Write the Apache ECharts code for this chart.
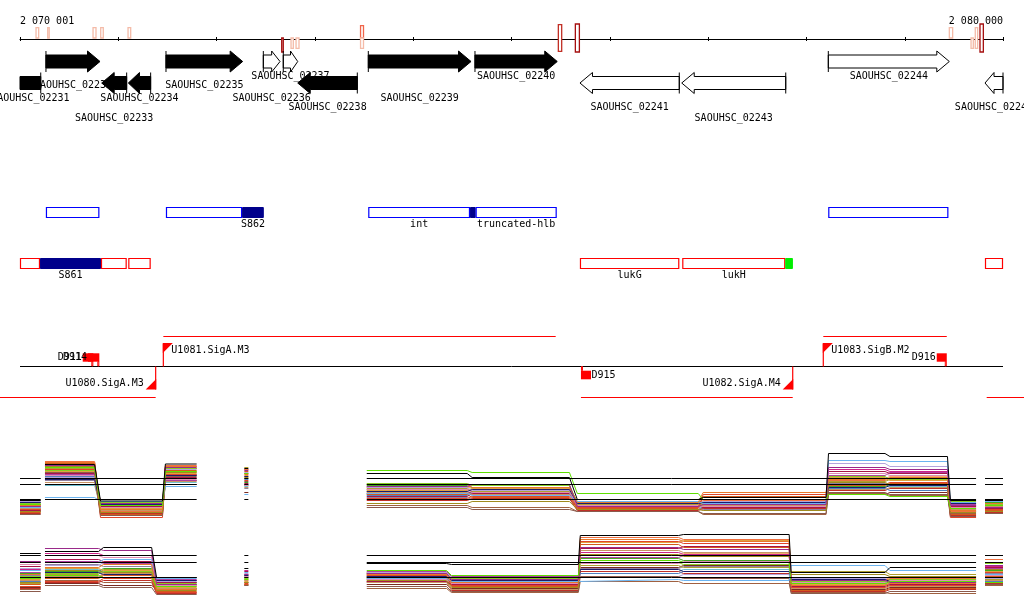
<!DOCTYPE html>
<html><head><meta charset="utf-8">
<script src="https://cdn.jsdelivr.net/npm/echarts/dist/echarts.min.js"></script>
<style>html,body{margin:0;padding:0;background:#fff}#c{width:1024px;height:611px}</style>
</head><body><div id="c"></div><script>
// ---------------- data ----------------
const X_MIN = 2070001, X_MAX = 2080000;
const rulerLabels = ['2 070 001', '2 080 000'];

// small scored features on the ruler (strand: 1 above, -1 below, 0 both)
const rfStart  = [2070164,2070283,2070744,2070822,2071100,2072663,2072758,2072809,2073465,2073465,2075477,2075650,2079454,2079675,2079718,2079766];
const rfEnd    = [2070191,2070296,2070774,2070848,2071127,2072679,2072781,2072839,2073495,2073495,2075511,2075691,2079488,2079698,2079742,2079800];
const rfStrand = [1,1,1,1,1,-1,-1,-1,1,-1,0,0,1,-1,0,0];
const rfScore  = [0.1,0.1,0.1,0.1,0.1,1,0.1,0.1,0.6,0.1,0.85,1,0.1,0.1,0.1,1];

// genes
const geneName   = ['SAOUHSC_02231','SAOUHSC_02232','SAOUHSC_02233','SAOUHSC_02234','SAOUHSC_02235','SAOUHSC_02236','SAOUHSC_02237','SAOUHSC_02238','SAOUHSC_02239','SAOUHSC_02240','SAOUHSC_02241','SAOUHSC_02243','SAOUHSC_02244','SAOUHSC_02245'];
const geneStart  = [2069650,2070265,2070832,2071103,2071486,2072476,2072679,2072826,2073544,2074629,2075697,2076732,2078223,2079817];
const geneEnd    = [2070212,2070815,2071086,2071330,2072266,2072646,2072826,2073432,2074589,2075466,2076707,2077790,2079454,2080000];
const geneStrand = [-1,1,-1,-1,1,1,1,-1,1,1,-1,-1,1,-1];
const geneHollow = [0,0,0,0,0,1,1,0,0,0,1,1,1,1];

// annotation track (blue)
const t2Start = [2070265,2071486,2072260,2073544,2074578,2074636,2078223];
const t2End   = [2070808,2072260,2072481,2074578,2074636,2075460,2079444];
const t2Kind  = ['open','open','navy','open','navy','open','open'];
const t2Label = ['','','S862','int','','truncated-hlb',''];

// annotation track (red)
const t3Start = [2070001,2070204,2070825,2071103,2075697,2076738,2077785,2079817];
const t3End   = [2070204,2070825,2071086,2071330,2076707,2077785,2077863,2080000];
const t3Kind  = ['open','navy','open','open','open','open','green','open'];
const t3Label = ['','S861','','','lukG','lukH','',''];

// transcription units
const tuName   = ['U1080.SigA.M3','U1081.SigA.M3','U1082.SigA.M4','U1083.SigB.M2',''];
const tuStart  = [2069700,2071459,2075707,2078172,2079834];
const tuEnd    = [2071381,2075450,2077861,2079428,2081500];
const tuStrand = [-1,1,-1,1,-1];

// terminators
const termName   = ['D911','D914','D915','D916'];
const termStart  = [2070639,2070693,2075707,2079326];
const termEnd    = [2070747,2070808,2075809,2079428];
const termStrand = [1,1,-1,1];

// expression panels: stretches with probe data
const dataSegments = [[2070001,2070212],[2070255,2071798],[2072283,2072324],[2073528,2079726],[2079817,2080000]];
const p1Refs = [8.4, 7.2, 4.2];
const p2Refs = [8.4, 7.0, 4.0];

const p1Regions = [[2070001,2070212],[2070255,2070760],[2070820,2071450],[2071480,2071798],[2072283,2072324],[2073528,2074550],[2074600,2075590],[2075670,2076900],[2076950,2078200],[2078225,2078800],[2078850,2079435],[2079465,2079726],[2079817,2080000]];
const p1Seg = [0,1,1,1,2,3,3,3,3,3,3,3,4];
const p1Levels = [
 [4.0,11.2,3.9,11.3,10.4,9.4,8.6,4.2,4.6,13.4,12.8,4.0,4.0],
 [3.2,10.6,3.0,9.8,9.4,10.0,9.6,5.4,4.2,5.2,4.8,2.4,3.0],
 [2.8,11.0,3.4,10.6,10.0,6.8,7.2,2.8,3.2,10.6,10.2,3.0,2.6],
 [3.0,11.6,2.2,10.8,9.2,7.2,6.6,3.6,5.6,8.2,8.6,2.0,3.4],
 [1.8,10.8,1.6,9.6,8.6,3.4,3.8,2.2,2.0,7.6,7.2,1.6,1.8],
 [2.6,4.6,3.8,6.8,5.2,5.4,5.0,3.8,3.4,12.0,11.8,3.6,3.8],
 [3.6,8.2,3.2,9.0,8.8,5.8,6.2,3.4,3.6,6.6,7.0,3.4,3.8],
 [1.2,9.6,1.0,8.8,7.8,2.6,2.2,1.8,1.4,5.6,5.2,0.8,1.4],
 [2.2,10.2,0.6,9.2,8.0,4.4,4.8,2.6,5.2,7.2,7.6,0.6,2.2],
 [3.0,9.0,2.6,8.2,7.0,6.2,5.6,3.0,2.8,9.4,9.0,2.6,3.0],
 [3.8,8.6,3.0,10.2,9.6,6.6,6.0,3.4,3.8,11.4,10.8,3.0,3.4],
 [2.4,7.6,2.0,7.8,6.6,5.6,5.2,2.6,3.0,6.2,6.6,2.2,2.8],
 [2.0,9.4,2.8,8.6,7.4,4.8,5.4,3.0,2.6,9.8,9.4,2.8,2.4],
 [1.6,11.4,1.2,10.0,9.8,5.2,4.6,2.4,4.8,7.0,7.4,1.2,2.0],
 [3.4,10.0,3.6,10.4,8.4,7.4,7.0,3.6,3.2,8.8,8.2,3.8,3.2],
 [2.8,9.8,2.4,9.4,9.0,6.0,6.4,2.8,3.4,8.6,8.0,2.4,2.6],
 [2.0,10.4,2.6,9.8,10.6,6.4,5.8,3.2,2.8,7.8,8.2,2.0,2.2],
 [3.2,9.2,3.8,8.0,7.2,5.8,5.2,3.8,3.4,9.0,9.6,3.2,3.0],
 [2.6,8.8,3.2,9.2,8.2,5.0,5.6,3.0,3.2,6.4,6.0,2.8,3.2],
 [1.4,10.8,1.4,10.4,9.4,4.0,4.4,2.0,2.4,6.0,6.4,1.0,1.6],
 [3.0,8.0,2.2,8.4,6.4,4.6,4.2,2.6,2.2,7.4,7.0,2.2,2.4],
 [2.4,11.8,1.8,11.0,10.2,6.6,7.0,3.4,4.0,8.0,8.4,1.8,2.8],
 [3.6,9.6,3.4,9.0,7.6,7.0,6.6,3.8,3.6,6.8,7.2,3.4,3.6],
 [1.8,8.4,2.0,7.2,5.6,5.4,5.8,2.2,2.6,5.2,5.6,1.8,2.0],
 [2.8,10.4,3.0,10.8,10.2,6.2,5.8,3.4,3.0,10.2,9.8,3.0,3.2],
 [2.2,9.0,1.6,8.0,7.0,3.0,2.6,1.8,1.2,5.4,5.0,1.4,1.8],
 [3.2,11.0,3.2,9.6,8.8,6.8,6.4,3.2,3.6,8.4,8.8,2.6,3.4],
 [3.0,7.0,2.8,7.6,6.8,5.2,5.6,2.8,2.4,7.2,6.8,2.4,2.8]
];

const p2Regions = [[2070001,2070212],[2070255,2070800],[2070850,2071340],[2071390,2071798],[2072283,2072324],[2073528,2074340],[2074390,2075680],[2075700,2076700],[2076750,2077825],[2077845,2078800],[2078850,2079726],[2079817,2080000]];
const p2Seg = [0,1,1,1,2,3,3,3,3,3,3,4];
const p2Levels = [
 [8.8,9.2,10.0,4.0,5.8,6.8,6.6,12.4,12.6,5.0,6.0,8.4],
 [3.8,4.4,4.0,2.2,3.6,5.4,4.4,7.4,7.0,2.8,3.2,3.0],
 [7.2,9.8,9.4,2.6,4.6,4.8,3.6,10.0,9.6,3.4,3.0,6.4],
 [4.6,6.0,6.6,1.6,4.0,4.6,3.0,11.6,11.2,2.4,2.8,7.0],
 [3.0,5.4,5.0,1.4,3.0,3.4,2.0,8.6,8.2,4.6,4.2,5.6],
 [5.4,7.0,7.6,3.8,5.0,3.8,3.2,3.6,3.4,6.4,5.4,4.6],
 [4.0,5.0,4.6,3.4,4.4,4.2,3.4,5.6,5.2,3.6,3.2,4.0],
 [1.2,2.4,2.0,0.6,2.4,2.2,1.2,4.2,3.8,0.8,1.2,2.6],
 [2.2,3.2,3.8,1.0,2.8,4.4,2.4,11.2,10.8,2.0,2.4,5.0],
 [6.6,8.4,8.0,2.4,4.2,3.6,2.8,6.8,7.2,3.0,3.4,4.4],
 [5.8,6.4,7.0,3.2,4.8,5.0,4.0,4.2,4.6,3.8,4.2,3.8],
 [3.4,4.2,4.8,1.8,3.4,3.0,1.6,9.4,9.0,1.8,2.2,3.4],
 [6.2,7.6,7.2,3.0,5.2,3.2,2.6,9.8,10.2,2.2,2.6,6.0],
 [2.6,3.8,4.4,1.2,2.6,4.0,2.2,10.6,10.0,1.4,1.8,4.2],
 [4.2,4.8,5.2,2.8,3.8,4.8,3.8,7.0,6.6,3.2,3.6,6.8],
 [3.6,5.8,5.4,2.0,3.2,4.4,2.8,11.0,11.4,2.6,3.0,5.2],
 [2.8,4.6,5.6,1.6,3.0,3.8,2.4,6.4,6.0,5.2,4.6,3.6],
 [5.0,7.2,6.8,3.6,4.6,5.2,4.2,8.0,8.4,3.6,3.2,5.8],
 [3.2,5.4,5.0,2.6,4.0,3.6,3.0,4.8,5.2,3.0,2.6,3.2],
 [1.8,3.0,3.4,0.8,2.6,3.2,1.4,5.2,4.8,1.2,1.6,2.8],
 [4.4,6.6,6.2,3.0,4.2,3.0,2.6,5.8,6.2,2.4,2.8,4.8],
 [3.0,4.0,4.6,2.4,3.6,5.0,3.6,12.0,11.6,3.4,3.8,7.6],
 [4.8,5.2,5.8,3.0,4.4,4.2,3.0,7.8,7.4,2.6,3.0,5.4],
 [2.0,2.8,2.4,1.8,3.0,2.6,1.8,6.0,6.4,1.6,2.0,3.8],
 [5.6,8.8,8.4,3.4,5.4,4.6,3.8,9.0,8.6,3.2,3.6,6.2],
 [1.6,3.4,3.0,1.0,2.4,1.8,1.0,3.2,2.8,1.0,0.8,2.4],
 [3.8,5.0,5.4,2.2,3.4,4.8,3.4,8.4,8.8,4.0,3.6,4.6],
 [4.2,5.6,5.2,2.6,3.8,4.0,3.2,5.2,5.6,2.8,2.4,4.2]
];

// ---------------- styles / layout ----------------
const lineColors = ['#000000','#5fe000','#9a2a8a','#e8782a','#a08c1e','#6cb4f0','#1c1c6c','#8b5a4c','#e0452a','#e08cb4','#b4a4dc','#c89464','#a81448','#d45a1c','#88cc22','#e0a040','#b0a030','#b040a0','#5080c0','#c03028','#9080a0','#f07040','#40a820','#7a2a20','#cc2288','#a06040','#f0b070','#70c0d0'];
const FF = '"DejaVu Sans Mono", monospace';
const FS = 10;
const RULER_Y = 38;
const Y_FWD = 61.5, Y_REV = 83, BODY_H = 6.5, HEAD_H = 10.5, HEAD_LEN = 12.5;
const geneLabelY = [98,85,118,98,85,98,76,107,98,76,107,118,76,107];
const T2_Y = 212.5, T2_LABEL_Y = 224, T3_Y = 263.5, T3_LABEL_Y = 275, BOX_H = 10;
const TU_BASE = 366.5, TU_FWD_LINE = 336.5, TU_REV_LINE = 397.5;
const RED = '#ff0000';

function txt(x, y, text, align) {
  return {type:'text', x:x, y:y, style:{text:text, align:align, verticalAlign:'middle', fill:'#000', fontFamily:FF, fontSize:FS}};
}
function mix(a, b, t) {
  const pa = [1,3,5].map(i=>parseInt(a.substr(i,2),16)), pb = [1,3,5].map(i=>parseInt(b.substr(i,2),16));
  return 'rgb(' + pa.map((v,k)=>Math.round(v+(pb[k]-v)*t)).join(',') + ')';
}
function scoreColor(s) {
  if (s <= 0.6) return mix('#f4bba8', '#f0654a', Math.max(0,(s-0.1)/0.5));
  return mix('#f0654a', '#a50f0f', (s-0.6)/0.4);
}
function px(api, bp) { return api.coord([bp, 0])[0]; }

// ---------------- renderers ----------------
function renderRulerFeat(params, api) {
  const i = params.dataIndex;
  let x0 = px(api, rfStart[i]), x1 = px(api, rfEnd[i]);
  if (x1 - x0 < 1.5) x1 = x0 + 1.5;
  const h = 10 + 4 * rfScore[i];
  const y0 = rfStrand[i] >= 0 ? RULER_Y - h : RULER_Y;
  const y1 = rfStrand[i] <= 0 ? RULER_Y + h : RULER_Y;
  return {type:'rect', shape:{x:x0, y:y0, width:x1-x0, height:y1-y0}, style:{fill:'#fff', stroke:scoreColor(rfScore[i]), lineWidth:1.3}};
}

function renderGene(params, api) {
  const i = params.dataIndex;
  const L = px(api, X_MIN), R = px(api, X_MAX);
  const x0 = px(api, geneStart[i]), x1 = px(api, geneEnd[i]);
  const cx0 = Math.max(x0, L), cx1 = Math.min(x1, R);
  const s = geneStrand[i];
  const yc = s > 0 ? Y_FWD : Y_REV;
  const head = Math.min(HEAD_LEN, (x1 - x0) * 0.5);
  let pts;
  if (s > 0) {
    const xh = x1 - head;
    pts = [[cx0,yc-BODY_H],[xh,yc-BODY_H],[xh,yc-HEAD_H],[x1,yc],[xh,yc+HEAD_H],[xh,yc+BODY_H],[cx0,yc+BODY_H]];
  } else if (x0 < L) {
    pts = [[cx0,yc-BODY_H],[cx1,yc-BODY_H],[cx1,yc+BODY_H],[cx0,yc+BODY_H]];
  } else {
    const xh = x0 + head;
    pts = [[x0,yc],[xh,yc-HEAD_H],[xh,yc-BODY_H],[cx1,yc-BODY_H],[cx1,yc+BODY_H],[xh,yc+BODY_H],[xh,yc+HEAD_H]];
  }
  const st = geneHollow[i] ? {fill:'#fff', stroke:'#000', lineWidth:1} : {fill:'#000', stroke:'#000', lineWidth:1};
  const ch = [{type:'polygon', shape:{points:pts}, style:st}];
  const mx = s > 0 ? x0 : x1;
  if (mx >= L - 0.5 && mx <= R + 0.5) {
    ch.push({type:'line', shape:{x1:mx, y1:yc-HEAD_H, x2:mx, y2:yc+HEAD_H}, style:{stroke:'#000', lineWidth:1}});
  }
  ch.push(txt((cx0 + cx1) / 2, geneLabelY[i], geneName[i], 'center'));
  return {type:'group', children:ch};
}

function boxRenderer(starts, ends, kinds, labels, cy, ly, outline) {
  return function(params, api) {
    const i = params.dataIndex;
    const x0 = px(api, starts[i]), x1 = px(api, ends[i]);
    const k = kinds[i];
    const fill = k === 'navy' ? '#00008b' : (k === 'green' ? '#00ee00' : '#fff');
    const stroke = k === 'open' ? outline : fill;
    const ch = [{type:'rect', shape:{x:x0+0.5, y:cy-BOX_H/2, width:Math.max(1,x1-x0-1), height:BOX_H}, style:{fill:fill, stroke:stroke, lineWidth: k==='open'?1.2:1}}];
    if (labels[i]) ch.push(txt((x0 + x1) / 2, ly, labels[i], 'center'));
    return {type:'group', children:ch};
  };
}

function renderTU(params, api) {
  const i = params.dataIndex;
  const x0 = px(api, tuStart[i]), x1 = px(api, tuEnd[i]);
  const ch = [];
  if (tuStrand[i] > 0) {
    ch.push({type:'line', shape:{x1:x0, y1:TU_FWD_LINE, x2:x1, y2:TU_FWD_LINE}, style:{stroke:RED, lineWidth:1.2}});
    ch.push({type:'line', shape:{x1:x0, y1:TU_BASE, x2:x0, y2:TU_BASE-23}, style:{stroke:RED, lineWidth:1.2}});
    ch.push({type:'polygon', shape:{points:[[x0-0.5,TU_BASE-23.5],[x0+9.5,TU_BASE-23.5],[x0-0.5,TU_BASE-13.5]]}, style:{fill:RED}});
    if (tuName[i]) ch.push(txt(x0 + 8, TU_BASE - 16.5, tuName[i], 'left'));
  } else {
    ch.push({type:'line', shape:{x1:x0, y1:TU_REV_LINE, x2:x1, y2:TU_REV_LINE}, style:{stroke:RED, lineWidth:1.2}});
    ch.push({type:'line', shape:{x1:x1, y1:TU_BASE, x2:x1, y2:TU_BASE+23}, style:{stroke:RED, lineWidth:1.2}});
    ch.push({type:'polygon', shape:{points:[[x1+0.5,TU_BASE+23],[x1-10,TU_BASE+23],[x1+0.5,TU_BASE+12.5]]}, style:{fill:RED}});
    if (tuName[i]) ch.push(txt(x1 - 12, TU_BASE + 17, tuName[i], 'right'));
  }
  return {type:'group', children:ch};
}

function renderTerm(params, api) {
  const i = params.dataIndex;
  const x0 = px(api, termStart[i]), x1 = px(api, termEnd[i]);
  const ch = [];
  if (termStrand[i] > 0) {
    ch.push({type:'rect', shape:{x:x0, y:TU_BASE-13.2, width:x1-x0, height:8.4}, style:{fill:RED}});
    ch.push({type:'rect', shape:{x:x1-1.5, y:TU_BASE-5, width:1, height:4.5}, style:{fill:'#fff', stroke:RED, lineWidth:1}});
    ch.push(txt(x0 - 1, TU_BASE - 9.5, termName[i], 'right'));
  } else {
    ch.push({type:'rect', shape:{x:x0, y:TU_BASE+4.2, width:x1-x0, height:8.6}, style:{fill:RED}});
    ch.push({type:'rect', shape:{x:x0+0.5, y:TU_BASE, width:1, height:4.2}, style:{fill:'#fff', stroke:RED, lineWidth:1}});
    ch.push(txt(x1 + 0.5, TU_BASE + 8.5, termName[i], 'left'));
  }
  return {type:'group', children:ch};
}

function renderBase(params, api) {
  const L = px(api, X_MIN), R = px(api, X_MAX);
  return {type:'line', shape:{x1:L, y1:TU_BASE, x2:R, y2:TU_BASE}, style:{stroke:'#000', lineWidth:1}};
}

// ---------------- series builders ----------------
function idxData(starts, ends) { return starts.map((s, i) => [s, ends[i], i]); }
function customSeries(data, fn, z) {
  return {type:'custom', coordinateSystem:'cartesian2d', xAxisIndex:2, yAxisIndex:1, data:data,
          encode:{x:[0,1], y:2}, renderItem:fn, silent:true, animation:false, z:z, clip:false};
}
function profileData(regions, seg, vals) {
  const out = [];
  for (let r = 0; r < regions.length; r++) {
    if (r > 0 && seg[r] !== seg[r-1]) out.push([(regions[r-1][1] + regions[r][0]) / 2, '-']);
    out.push([regions[r][0], vals[r]], [regions[r][1], vals[r]]);
  }
  return out;
}
function refData(v) {
  const out = [];
  dataSegments.forEach((s, k) => {
    if (k > 0) out.push([(dataSegments[k-1][1] + s[0]) / 2, '-']);
    out.push([s[0], v], [s[1], v]);
  });
  return out;
}
function lineSeries(data, color, xi, yi, z, w) {
  return {type:'line', xAxisIndex:xi, yAxisIndex:yi, data:data, symbol:'none', showSymbol:false,
          connectNulls:false, silent:true, animation:false, z:z,
          lineStyle:{color:color, width:w}, itemStyle:{color:color}};
}

const series = [];
series.push(customSeries(idxData(rfStart, rfEnd), renderRulerFeat, 3));
series.push(customSeries(idxData(geneStart, geneEnd), renderGene, 3));
series.push(customSeries(idxData(t2Start, t2End), boxRenderer(t2Start, t2End, t2Kind, t2Label, T2_Y, T2_LABEL_Y, '#0000ff'), 3));
series.push(customSeries(idxData(t3Start, t3End), boxRenderer(t3Start, t3End, t3Kind, t3Label, T3_Y, T3_LABEL_Y, '#ff0000'), 3));
series.push(customSeries([[X_MIN, X_MAX, 0]], renderBase, 2));
series.push(customSeries(idxData(tuStart, tuEnd), renderTU, 3));
series.push(customSeries(idxData(termStart, termEnd), renderTerm, 4));

for (let k = p1Levels.length - 1; k >= 0; k--) series.push(lineSeries(profileData(p1Regions, p1Seg, p1Levels[k]), lineColors[k], 3, 2, k === 0 ? 4 : 3, 1));
for (let k = p2Levels.length - 1; k >= 0; k--) series.push(lineSeries(profileData(p2Regions, p2Seg, p2Levels[k]), lineColors[k], 4, 3, k === 0 ? 4 : 3, 1));
p1Refs.forEach(v => series.push(lineSeries(refData(v), '#000', 3, 2, 5, 1)));
p2Refs.forEach(v => series.push(lineSeries(refData(v), '#000', 4, 3, 5, 1)));

const hiddenX = gi => ({gridIndex:gi, type:'value', min:X_MIN, max:X_MAX, show:false});
const option = {
  backgroundColor:'#fff',
  animation:false,
  grid:[
    {left:20, right:21, top:RULER_Y, height:1},
    {left:20, right:21, top:0, bottom:0},
    {left:20, right:21, top:440.5, height:80},
    {left:20, right:21, top:517.5, height:80}
  ],
  xAxis:[
    {gridIndex:0, type:'value', min:X_MIN, max:X_MAX, position:'top', interval:1000,
     axisLine:{show:true, lineStyle:{color:'#000', width:1}},
     axisTick:{show:true, length:2, lineStyle:{color:'#000', width:1}},
     splitLine:{show:false},
     axisLabel:{show:true, interval:0, margin:12, showMinLabel:true, showMaxLabel:true,
       alignMinLabel:'left', alignMaxLabel:'right', hideOverlap:false,
       color:'#000', fontFamily:FF, fontSize:FS,
       formatter:v => v === X_MIN ? rulerLabels[0] : (v === X_MAX ? rulerLabels[1] : '')}},
    {gridIndex:0, type:'value', min:X_MIN, max:X_MAX, position:'bottom', interval:1000,
     axisLine:{show:false}, axisTick:{show:true, length:2, lineStyle:{color:'#000', width:1}},
     splitLine:{show:false}, axisLabel:{show:false}},
    hiddenX(1), hiddenX(2), hiddenX(3)
  ],
  yAxis:[
    {gridIndex:0, type:'value', min:0, max:1, show:false},
    {gridIndex:1, type:'value', min:0, max:611, inverse:true, show:false},
    {gridIndex:2, type:'value', min:0, max:16, show:false},
    {gridIndex:3, type:'value', min:0, max:16, show:false}
  ],
  series:series
};
const chart = echarts.init(document.getElementById('c'), null, {renderer:'canvas'});
chart.setOption(option);
</script></body></html>
